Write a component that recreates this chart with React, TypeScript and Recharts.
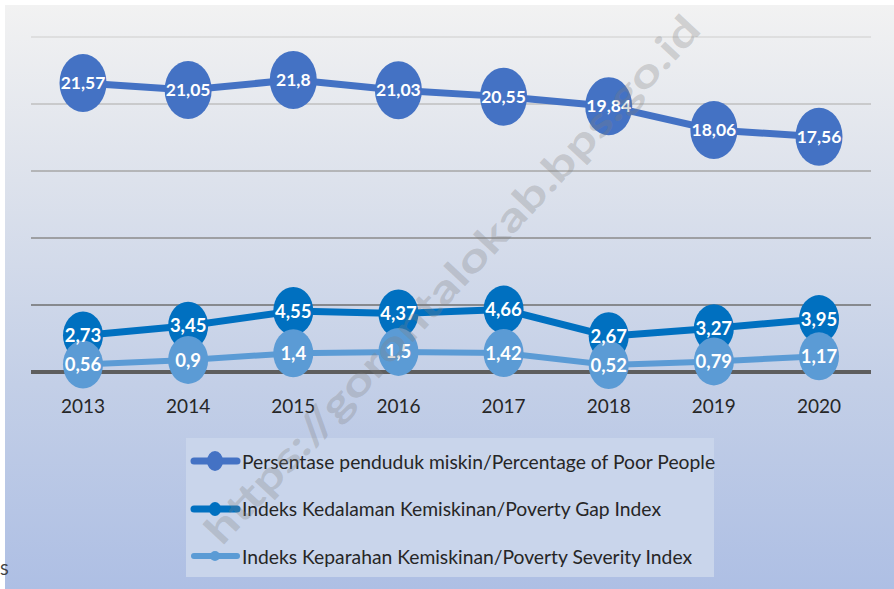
import { LineChart, Line, XAxis, YAxis, CartesianGrid, LabelList } from 'recharts';

const years = ['2013', '2014', '2015', '2016', '2017', '2018', '2019', '2020'];
const poorPeople = [21.57, 21.05, 21.8, 21.03, 20.55, 19.84, 18.06, 17.56];
const gapIndex = [2.73, 3.45, 4.55, 4.37, 4.66, 2.67, 3.27, 3.95];
const severityIndex = [0.56, 0.9, 1.4, 1.5, 1.42, 0.52, 0.79, 1.17];
const yTicks = [0, 5, 10, 15, 20, 25];

const seriesNames = [
  'Persentase penduduk miskin/Percentage of Poor People',
  'Indeks Kedalaman Kemiskinan/Poverty Gap Index',
  'Indeks Keparahan Kemiskinan/Poverty Severity Index',
];

const data = years.map((year, i) => ({
  year,
  poor: poorPeople[i],
  gap: gapIndex[i],
  severity: severityIndex[i],
}));

const FONT = 'Lato, "Open Sans", sans-serif';

const series = [
  { key: 'poor', name: seriesNames[0], color: '#4472c4', width: 7, rx: 23.5, ry: 29, font: 17.5, lrx: 8, lry: 10 },
  { key: 'gap', name: seriesNames[1], color: '#0070c0', width: 7, rx: 20, ry: 24, font: 18.5, lrx: 6, lry: 7 },
  { key: 'severity', name: seriesNames[2], color: '#5b9bd5', width: 6, rx: 20, ry: 24, font: 18.5, lrx: 5, lry: 5 },
];

const fmt = (v: any) => String(v).replace('.', ',');

function makeDot(color: string, rx: number, ry: number) {
  return (props: any) => {
    const { cx, cy, index } = props;
    if (cx == null || cy == null) return <g key={`d-${index}`} />;
    return <ellipse key={`d-${index}`} cx={cx} cy={cy} rx={rx} ry={ry} fill={color} />;
  };
}

function LegendBox() {
  return (
    <div
      style={{
        position: 'absolute',
        left: 186,
        top: 438,
        width: 528,
        height: 139,
        background: '#c9d5eb',
      }}
    >
      {series.map((s, i) => (
        <div
          key={s.key}
          style={{
            position: 'absolute',
            left: 0,
            top: 23 + i * 47.5 - 14,
            height: 28,
            display: 'flex',
            alignItems: 'center',
            whiteSpace: 'nowrap',
          }}
        >
          <svg width={56} height={28} style={{ display: 'block' }}>
            <line x1={8} y1={14} x2={51} y2={14} stroke={s.color} strokeWidth={s.width} strokeLinecap="round" />
            <ellipse cx={29} cy={14} rx={s.lrx} ry={s.lry} fill={s.color} />
          </svg>
          <span style={{ fontFamily: FONT, fontSize: 19.3, color: '#262626' }}>{s.name}</span>
        </div>
      ))}
    </div>
  );
}

export default function App() {
  return (
    <div
      style={{
        position: 'absolute',
        left: 0,
        top: 0,
        width: 894,
        height: 589,
        background: '#ffffff',
        overflow: 'hidden',
      }}
    >
      <div
        style={{
          position: 'absolute',
          left: 5,
          top: 5,
          width: 889,
          height: 584,
          background: 'linear-gradient(to bottom, #f2f2f2 0%, #dde2ec 30%, #c3cfe7 65%, #aebfe4 100%)',
        }}
      />
      <div style={{ position: 'absolute', left: 5, top: 5 }}>
        <LineChart
          width={889}
          height={584}
          data={data}
          margin={{ top: 32, right: 23, bottom: 177, left: 26 }}
        >
          <defs>
            <linearGradient id="gridGrad" gradientUnits="userSpaceOnUse" x1="0" y1="32" x2="0" y2="300">
              <stop offset="0%" stopColor="#d9d9d9" />
              <stop offset="50%" stopColor="#a6a6a6" />
              <stop offset="100%" stopColor="#6f6f6f" />
            </linearGradient>
          </defs>
          <CartesianGrid vertical={false} stroke="url(#gridGrad)" strokeWidth={1.6} />
          <YAxis hide domain={[0, 25]} ticks={yTicks} />
          <XAxis
            dataKey="year"
            height={40}
            padding={{ left: 52, right: 52 }}
            tickLine={false}
            axisLine={{ stroke: '#5e5e5e', strokeWidth: 4 }}
            tickMargin={22}
            tick={{ fontFamily: FONT, fontSize: 19, fill: '#262626' }}
          />
          {series.map((s) => (
            <Line
              key={s.key}
              dataKey={s.key}
              name={s.name}
              stroke={s.color}
              strokeWidth={s.width}
              isAnimationActive={false}
              dot={makeDot(s.color, s.rx, s.ry)}
              activeDot={false}
            >
              <LabelList
                dataKey={s.key}
                position="center"
                formatter={fmt}
                style={{ fill: '#ffffff', fontFamily: FONT, fontWeight: 700, fontSize: s.font }}
              />
            </Line>
          ))}
        </LineChart>
      </div>
      <LegendBox />
      <div
        style={{
          position: 'absolute',
          left: 0,
          top: 559,
          fontFamily: FONT,
          fontSize: 16,
          color: '#404040',
        }}
      >
        S
      </div>
      <svg
        width={894}
        height={589}
        style={{ position: 'absolute', left: 0, top: 0, pointerEvents: 'none' }}
      >
        <text
          x={0}
          y={0}
          transform="translate(455 282) rotate(-47)"
          textAnchor="middle"
          dominantBaseline="middle"
          textLength={705}
          lengthAdjust="spacingAndGlyphs"
          fontFamily={FONT}
          fontWeight={700}
          fontSize={40}
          fill="#808080"
          fillOpacity={0.3}
        >
          https://gorontalokab.bps.go.id
        </text>
      </svg>
    </div>
  );
}
